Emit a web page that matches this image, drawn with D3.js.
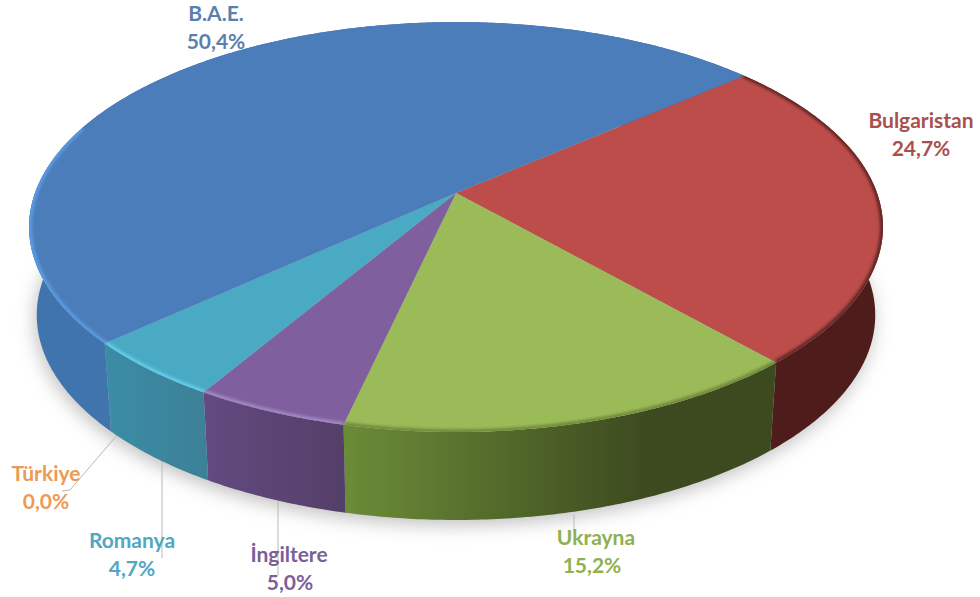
<!DOCTYPE html>
<html>
<head>
<meta charset="utf-8">
<script src="https://cdn.jsdelivr.net/npm/d3@7"></script>
<style>
  html, body { margin: 0; padding: 0; background: #fff; }
  text { font-family: Lato, "Open Sans", sans-serif; font-weight: 700; font-size: 21px; text-anchor: middle; }
</style>
</head>
<body>
<div id="chart"></div>
<script>
// chart data
var countries = ["Bulgaristan", "Ukrayna", "İngiltere", "Romanya", "Türkiye", "B.A.E."];
var shares = [24.7, 15.2, 5.0, 4.7, 0.0, 50.4];
var shareLabels = ["24,7%", "15,2%", "5,0%", "4,7%", "0,0%", "50,4%"];

// colours, same order as countries
var topColors = ["#bc4d4a", "#9bbb59", "#7f5f9e", "#4aa9c3", "#f79646", "#4b7dba"];
var textColors = ["#a9504f", "#8fb04f", "#7a5f98", "#4fa8bf", "#ec9a55", "#5b80ae"];
var rimColors = ["#5a2422", "#6d8438", "#a48cc8", "#63d0ee", "#f79646", "#5c9de6"];
var wallStart = ["#4f1e1c", "#6b8c37", "#634a80", "#3b8ca6", "#f79646", "#3f74ad"];
var wallEnd = ["#4d1c1b", "#3d4a1f", "#543f68", "#3c8198", "#f79646", "#3a6ba3"];

// label layout, same order as countries: [x, first baseline, second line x]
var labelSpots = [[921, 128, 921], [596, 545, 592], [289, 562, 290], [132, 548, 132], [46, 481, 46], [216, 21, 216]];
var leaders = [
  [[574, 515], [574, 532]],
  [[278, 501], [278, 575]],
  [[162, 461], [162, 558]],
  [[118, 434], [70, 490], [62, 491]]
];

var svgWidth = 980;
var svgHeight = 597;

// flat disc seen in perspective
var cx = 456, cy = 193;
var radiusX = 421, radiusY = 199.3, tilt = 0.166;
var depth = 88, baseShrink = 0.982;
var startDeg = 49.3;
var bevelEndDeg = 650; // the bevel on the blue slice stops at the far left of the disc

function project(angle, r) {
  var u = Math.sin(angle) * r;
  var v = -Math.cos(angle) * r;
  var p = 1 / (1 - tilt * v);
  return [cx + radiusX * u * p, cy + radiusY * v * p];
}

function projectBase(angle) {
  var pt = project(angle, 1);
  return [cx + (pt[0] - cx) * baseShrink, pt[1] + depth];
}

function sweep(a0, a1, fn) {
  var n = Math.max(2, Math.ceil(Math.abs(a1 - a0) / 0.01));
  return d3.range(n + 1).map(function(i) { return fn(a0 + (a1 - a0) * i / n); });
}

var line = d3.line();

var pie = d3.pie()
  .sort(null)
  .value(function(d) { return d; })
  .startAngle(startDeg * Math.PI / 180)
  .endAngle((startDeg + 360) * Math.PI / 180);

var slices = pie(shares);

var svg = d3.select("#chart")
  .append("svg")
  .attr("width", svgWidth)
  .attr("height", svgHeight)
  .style("display", "block");

var defs = svg.append("defs");

defs.append("filter").attr("id", "shadowBlur")
  .attr("x", "-10%").attr("y", "-10%").attr("width", "120%").attr("height", "120%")
  .append("feGaussianBlur").attr("stdDeviation", 9);

defs.append("filter").attr("id", "rimBlur")
  .attr("x", "-5%").attr("y", "-5%").attr("width", "110%").attr("height", "110%")
  .append("feGaussianBlur").attr("stdDeviation", 1.4);

var fullRim = function(a) { return project(a, 1); };
var wholeCircle = sweep(0, 2 * Math.PI, fullRim);

defs.append("clipPath").attr("id", "topClip")
  .append("path").attr("d", line(wholeCircle) + "Z");

// soft shadow under the pie
svg.append("path")
  .attr("d", line(sweep(0, 2 * Math.PI, projectBase).map(function(p) { return [p[0] - 2, p[1] + 5]; })) + "Z")
  .attr("fill", "#8d8d8d")
  .attr("fill-opacity", 0.55)
  .attr("filter", "url(#shadowBlur)");

// leader lines
svg.selectAll("path.leader")
  .data(leaders)
  .enter()
  .append("path")
  .attr("class", "leader")
  .attr("d", function(d) { return line(d); })
  .attr("fill", "none")
  .attr("stroke", "#b9b9b9")
  .attr("stroke-width", 1);

// side walls
slices.forEach(function(d, i) {
  var a0 = d.startAngle, a1 = d.endAngle;
  if (a1 - a0 < 1e-6) return;
  var x0 = Math.min(project(a0, 1)[0], project(a1, 1)[0]);
  var x1 = Math.max(project(a0, 1)[0], project(a1, 1)[0]);
  var grad = defs.append("linearGradient")
    .attr("id", "wall" + i)
    .attr("gradientUnits", "userSpaceOnUse")
    .attr("x1", x0).attr("x2", x1).attr("y1", 0).attr("y2", 0);
  grad.append("stop").attr("offset", "0%").attr("stop-color", wallStart[i]);
  grad.append("stop").attr("offset", i === 1 ? "70%" : "100%").attr("stop-color", wallEnd[i]);

  var ring = sweep(a0, a1, fullRim).concat(sweep(a1, a0, projectBase));
  svg.append("path")
    .attr("d", line(ring) + "Z")
    .attr("fill", "url(#wall" + i + ")");
});

// top face
svg.selectAll("path.top")
  .data(slices)
  .enter()
  .append("path")
  .attr("class", "top")
  .attr("d", function(d) {
    return line([[cx, cy]].concat(sweep(d.startAngle, d.endAngle, fullRim))) + "Z";
  })
  .attr("fill", function(d, i) { return topColors[i]; });

// bevel along the rim
var rimGroup = svg.append("g").attr("clip-path", "url(#topClip)");
rimGroup.selectAll("path")
  .data(slices)
  .enter()
  .append("path")
  .attr("d", function(d) {
    var end = Math.min(d.endAngle, (bevelEndDeg - 360) * Math.PI / 180);
    return line(sweep(d.startAngle, end, function(a) { return project(a, 0.998); }));
  })
  .attr("fill", "none")
  .attr("stroke", function(d, i) { return rimColors[i]; })
  .attr("stroke-width", 4)
  .attr("filter", "url(#rimBlur)");

// labels
var labels = svg.selectAll("g.label")
  .data(countries)
  .enter()
  .append("g")
  .attr("class", "label")
  .attr("fill", function(d, i) { return textColors[i]; });

labels.append("text")
  .attr("x", function(d, i) { return labelSpots[i][0]; })
  .attr("y", function(d, i) { return labelSpots[i][1]; })
  .text(function(d) { return d; });

labels.append("text")
  .attr("x", function(d, i) { return labelSpots[i][2]; })
  .attr("y", function(d, i) { return labelSpots[i][1] + 28; })
  .text(function(d, i) { return shareLabels[i]; });
</script>
</body>
</html>
